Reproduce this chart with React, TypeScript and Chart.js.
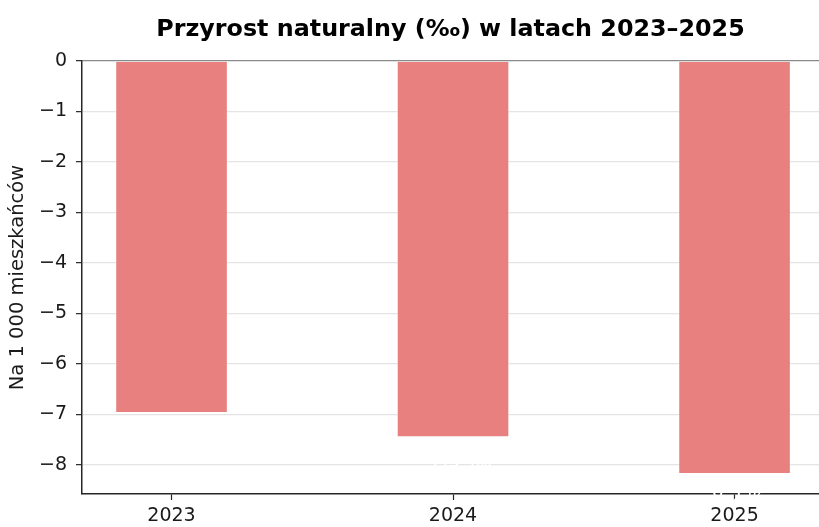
import React, { useEffect, useRef } from 'react';
import { Chart, registerables } from 'chart.js';

Chart.register(...registerables);

const years = ['2023', '2024', '2025'];
const values = [-6.97, -7.45, -8.18];
const yTickValues = [0, -1, -2, -3, -4, -5, -6, -7, -8];
const titleText = 'Przyrost naturalny (‰) w latach 2023–2025';
const yAxisLabel = 'Na 1 000 mieszkańców';
const barLabels = ['−7,0 ‰', '−7,5 ‰', '−8,2 ‰'];

const FONT = "'DejaVu Sans', sans-serif";
const BAR_COLOR = 'rgb(232,128,127)';

const whiteLabels = {
  id: 'whiteLabels',
  afterDraw(chart: any) {
    const ctx = chart.ctx;
    const meta = chart.getDatasetMeta(0);
    ctx.save();
    ctx.fillStyle = '#ffffff';
    ctx.font = `19px ${FONT}`;
    ctx.textAlign = 'center';
    ctx.textBaseline = 'middle';
    meta.data.forEach((el: any, i: number) => {
      ctx.fillText(barLabels[i], el.x, el.y + 25);
    });
    ctx.restore();
  },
};

export default function App() {
  const ref = useRef<HTMLCanvasElement | null>(null);

  useEffect(() => {
    document.body.style.margin = '0';
    const canvas = ref.current!;
    const chart = new Chart(canvas, {
      type: 'bar',
      data: {
        datasets: [
          {
            data: values.map((v, i) => ({ x: i, y: v })),
            backgroundColor: BAR_COLOR,
            borderColor: 'rgba(255,255,255,0.45)',
            borderWidth: { top: 0, left: 1, right: 1, bottom: 1 },
            borderSkipped: false,
            barPercentage: 0.4,
            categoryPercentage: 1,
          },
        ],
      },
      options: {
        responsive: false,
        animation: false,
        devicePixelRatio: 1,
        layout: { padding: 0 },
        plugins: {
          legend: { display: false },
          tooltip: { enabled: false },
          title: {
            display: true,
            text: titleText,
            fullSize: false,
            color: '#000000',
            font: { family: FONT, size: 23.8, weight: 'bold', lineHeight: 1.2 },
            padding: { top: 16, bottom: 16.5 },
          },
        },
        scales: {
          x: {
            type: 'linear',
            min: -0.318,
            max: 2.3,
            offset: false,
            afterBuildTicks: (scale: any) => {
              scale.ticks = years.map((_, i) => ({ value: i }));
            },
            afterFit: (scale: any) => {
              scale.height = 33;
            },
            grid: {
              offset: false,
              drawOnChartArea: false,
              drawTicks: true,
              tickLength: 6,
              tickColor: '#262626',
              tickWidth: 1.2,
            },
            border: { display: true, color: '#262626', width: 1.5 },
            ticks: {
              autoSkip: false,
              maxRotation: 0,
              padding: 5,
              color: '#1a1a1a',
              font: { family: FONT, size: 19 },
              callback: (v: any) => years[v as number] ?? '',
            },
          },
          y: {
            min: -8.575,
            max: 0,
            afterBuildTicks: (scale: any) => {
              scale.ticks = yTickValues.map((v) => ({ value: v }));
            },
            afterFit: (scale: any) => {
              scale.width = 82;
            },
            grid: {
              color: (c: any) => (c.tick && c.tick.value === 0 ? '#8a8a8a' : '#e4e4e4'),
              lineWidth: 1.3,
              drawTicks: true,
              tickLength: 6,
              tickColor: '#262626',
              tickWidth: 1.2,
            },
            border: { display: true, color: '#262626', width: 1.5 },
            ticks: {
              padding: 9,
              color: '#1a1a1a',
              font: { family: FONT, size: 19 },
              callback: (v: any) => (v === 0 ? '0' : '−' + Math.abs(v as number)),
            },
            title: {
              display: true,
              text: yAxisLabel,
              color: '#1a1a1a',
              font: { family: FONT, size: 19.5 },
              padding: { top: 6, bottom: 4 },
            },
          },
        },
      },
      plugins: [whiteLabels],
    } as any);
    return () => chart.destroy();
  }, []);

  return (
    <div style={{ position: 'fixed', left: 0, top: 0, width: 819, height: 527, background: '#fff' }}>
      <canvas ref={ref} width={819} height={527} style={{ width: 819, height: 527, display: 'block' }} />
    </div>
  );
}
